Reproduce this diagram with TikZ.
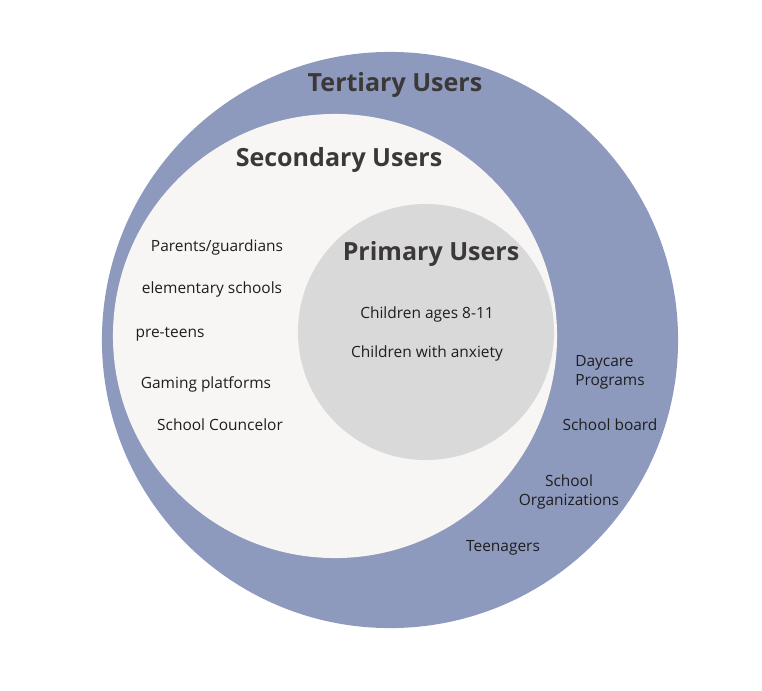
\documentclass[tikz,border=0pt]{standalone}
\usepackage{fontspec}
\setmainfont{Open Sans}
\usepackage{tikz}
\usetikzlibrary{positioning}

\definecolor{tercol}{RGB}{141,154,190}
\definecolor{seccol}{RGB}{247,246,244}
\definecolor{pricol}{RGB}{217,217,217}
\definecolor{titcol}{RGB}{60,56,56}
\definecolor{itemcol}{RGB}{30,30,30}

\begin{document}
\begin{tikzpicture}[x=0.025cm, y=-0.025cm,
        anillo/.style={circle, inner sep=0pt},
        titulo/.style={font=\fontsize{17.8}{21}\selectfont\bfseries, text=titcol},
        item/.style={font=\fontsize{11}{13.5}\selectfont, text=itemcol, align=center}]
        \useasboundingbox (0,0) rectangle (762,690);
        % circulos
        \node[anillo, fill=tercol, minimum size=14.4cm] (ter) at (390,340) {};
        \node[anillo, fill=seccol, minimum size=11.1cm] (sec) at (335,336) {};
        \node[anillo, fill=pricol, minimum size=6.4cm] (pri) at (426,332) {};
        % titulos
        \node[titulo] (tterc) at (395,85) {Tertiary Users};
        \node[titulo] (tsec) at (339,160) {Secondary Users};
        \node[titulo] (tpri) at (431,254) {Primary Users};
        % usuarios primarios
        \node[item] (p1) at (427,314) {Children ages 8-11};
        \node[item] (p2) at (427,353) {Children with anxiety};
        % usuarios secundarios
        \node[item] (s1) at (217,247) {Parents/guardians};
        \node[item] (s2) at (212,289) {elementary schools};
        \node[item] (s3) at (170,334) {pre-teens};
        \node[item] (s4) at (206,384) {Gaming platforms};
        \node[item] (s5) at (220,425) {School Councelor};
        % usuarios terciarios
        \node[item, align=left] (t1) at (610,372) {Daycare\\Programs};
        \node[item] (t2) at (610,425) {School board};
        \node[item] (t3) at (569,492) {School\\Organizations};
        \node[item] (t4) at (503,548) {Teenagers};
    \end{tikzpicture}
\end{document}
